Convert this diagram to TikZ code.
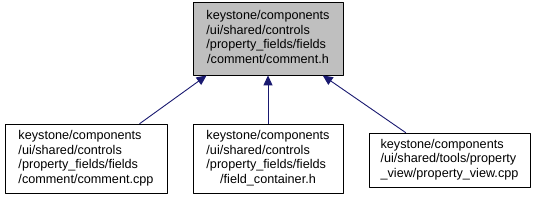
\documentclass[tikz,border=0pt]{standalone}
\usepackage{fontspec}
\setmainfont{Liberation Sans}
\usepackage{tikz}
\usetikzlibrary{arrows.meta}
\definecolor{edgeblue}{HTML}{191970}
\definecolor{boxgray}{HTML}{BFBFBF}

\newcommand{\flines}[2]{\begin{tabular}{@{}l@{}}#1\\\multicolumn{1}{@{}c@{}}{#2}\end{tabular}}

\begin{document}
\begin{tikzpicture}[x=1bp,y=-1bp, line cap=round, line join=round,
    file/.style={draw=black, line width=0.8bp, inner sep=0pt, font=\fontsize{12.7}{15}\selectfont},
    edge/.style={draw=edgeblue, line width=0.9bp, {Triangle[length=10bp,width=9bp]}-}]
    \useasboundingbox (0,0) rectangle (536,200);

    % Files
    \node[file, fill=boxgray, minimum width=150bp, minimum height=73bp] (comment_h) at (268,38.5)
        {\flines{keystone/components\\/ui/shared/controls\\/property\_fields/fields}{/comment/comment.h}};
    \node[file, minimum width=162bp, minimum height=69bp] (comment_cpp) at (86,158.5)
        {\flines{keystone/components\\/ui/shared/controls\\/property\_fields/fields}{/comment/comment.cpp}};
    \node[file, minimum width=150bp, minimum height=69bp] (field_container) at (268,158.5)
        {\flines{keystone/components\\/ui/shared/controls\\/property\_fields/fields}{/field\_container.h}};
    \node[file, minimum width=161bp, minimum height=54bp] (property_view) at (449.5,160)
        {\flines{keystone/components\\/ui/shared/tools/property}{\_view/property\_view.cpp}};

    % Includes
    \draw[edge] (comment_h.211.3) -- (comment_cpp.33.6);
    \draw[edge] (comment_h.south) -- (field_container.north);
    \draw[edge] (comment_h.326.4) -- (property_view.148.2);
\end{tikzpicture}
\end{document}
